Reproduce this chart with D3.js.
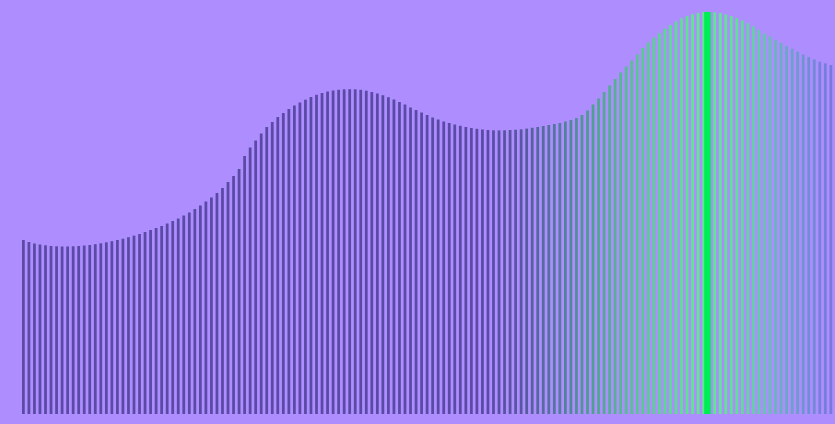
<!DOCTYPE html>
<html>
<head>
<meta charset="utf-8">
<script src="https://cdn.jsdelivr.net/npm/d3@7"></script>
<style>
  html, body { margin: 0; padding: 0; background: #ae8dff; overflow: hidden; }
</style>
</head>
<body>
<svg id="chart" width="835" height="424"></svg>
<script>
// one value per bar
const values = [
  174, 172, 170.5, 169.5, 168.7, 168, 167.7, 167.5, 167.5, 167.7,
  168, 168.5, 169, 169.8, 170.7, 171.7, 172.8, 174, 175.3, 176.8,
  178.4, 180, 182, 184, 186, 188, 190.5, 193, 195.5, 198.5,
  201.5, 205, 208.5, 212.5, 216.5, 221, 226, 232, 238, 245,
  258, 266.5, 273.5, 280.5, 287, 292, 297, 301, 305, 308.5,
  311.5, 314.3, 317, 319.2, 321, 322.5, 323.5, 324.2, 324.7, 324.8,
  324.7, 324.2, 323.3, 322, 320.5, 318.8, 316.8, 314.5, 312, 309.5,
  306.5, 304, 301.5, 299, 296.5, 294.5, 292.5, 291, 289.5, 288.2,
  287, 286, 285.2, 284.5, 284, 283.7, 283.6, 283.7, 284, 284.3,
  284.7, 285.4, 286.2, 287, 288, 289, 290, 291, 292.5, 294,
  296, 299, 303.5, 309.5, 315.5, 322, 328.5, 335, 341.5, 347.5,
  353.5, 359.5, 366, 371.5, 376.5, 381, 385.5, 389, 392.5, 395.7,
  398, 399.8, 401.1, 401.8, 402, 401.7, 401, 399.7, 398, 395.8,
  393.5, 390.8, 387.5, 384, 380.5, 377.7, 374.2, 371, 368, 365.2,
  362.3, 359.5, 357, 354.5, 352.3, 350.7, 349
]
const selected = 124

// colour by offset from the selected bar
const colorOffsets = [-40, -33, -27, -21, -14, -7, -2, 2, 6, 10, 14, 18, 22]
const colorStops = ['#5a4aa6', '#575c9f', '#527c9b', '#50a092', '#56c290', '#5cdc90', '#5ee890',
  '#5ee890', '#60dc98', '#66c4b0', '#6aa8c4', '#708ed2', '#7878de']

const width = 835
const height = 424

const svg = d3.select('#chart')

const x = d3.scaleBand()
  .domain(d3.range(values.length))
  .range([22, 835])
  .paddingInner(0.5)
  .paddingOuter(0.25)
  .align(0)

const y = d3.scaleLinear().domain([0, 402]).range([414, 12])

const color = d3.scaleLinear()
  .domain(colorOffsets)
  .range(colorStops)
  .clamp(true)

svg.append('rect')
  .attr('width', width)
  .attr('height', height)
  .attr('fill', '#ae8dff')

svg.append('g')
  .selectAll('rect')
  .data(values)
  .join('rect')
  .attr('x', (d, i) => x(i))
  .attr('y', (d) => y(d))
  .attr('width', x.bandwidth())
  .attr('height', (d) => y(0) - y(d))
  .attr('fill', (d, i) => color(i - selected))

// highlighted bar
svg.append('rect')
  .attr('x', x(selected) - x.bandwidth() * 1.3)
  .attr('y', y(values[selected]))
  .attr('width', x.bandwidth() * 2.4)
  .attr('height', y(0) - y(values[selected]))
  .attr('fill', '#00ee55')
</script>
</body>
</html>
